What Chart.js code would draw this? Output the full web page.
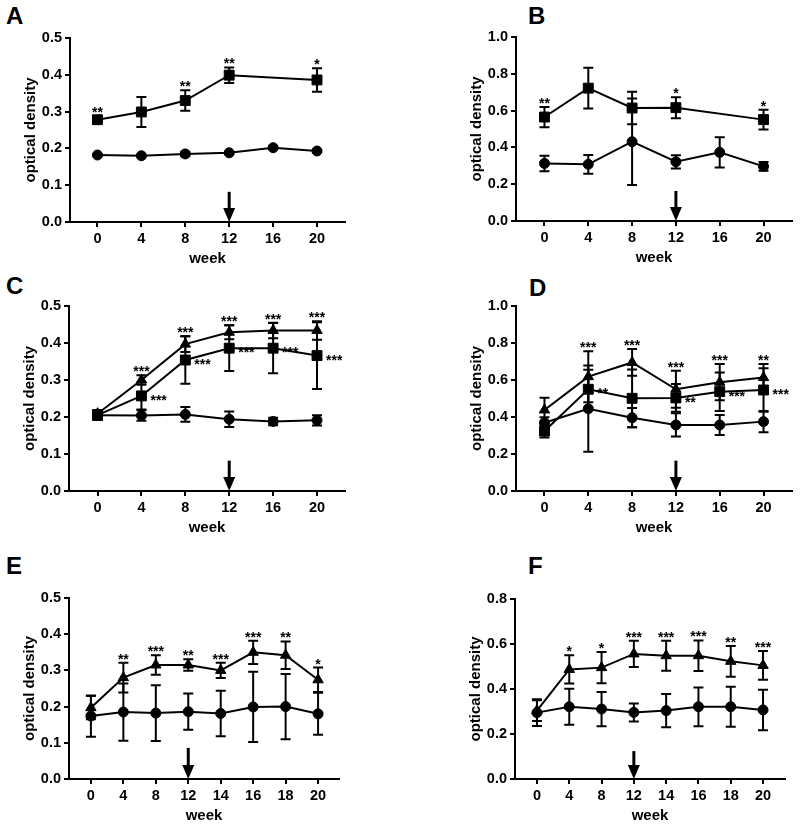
<!DOCTYPE html>
<html><head><meta charset="utf-8">
<script src="https://cdn.jsdelivr.net/npm/chart.js@4.4.1/dist/chart.umd.min.js"></script>
<style>
html,body{margin:0;padding:0;background:#fff;overflow:hidden}
#wrap{position:relative;width:800px;height:827px;background:#fff}
canvas{position:absolute}
.letter{position:absolute;font:bold 24px 'Liberation Sans',Arial,sans-serif;line-height:24px;color:#000}
</style></head><body><div id="wrap">
<div class="letter" style="left:6px;top:4px">A</div>
<div class="letter" style="left:528px;top:4px">B</div>
<div class="letter" style="left:6px;top:274px">C</div>
<div class="letter" style="left:529px;top:276px">D</div>
<div class="letter" style="left:6px;top:554px">E</div>
<div class="letter" style="left:528px;top:554px">F</div>
<canvas id="cA" width="400" height="270" style="left:0;top:0;width:400px;height:270px"></canvas>
<canvas id="cB" width="400" height="270" style="left:400px;top:0;width:400px;height:270px"></canvas>
<canvas id="cC" width="400" height="270" style="left:0;top:270px;width:400px;height:270px"></canvas>
<canvas id="cD" width="400" height="270" style="left:400px;top:270px;width:400px;height:270px"></canvas>
<canvas id="cE" width="400" height="287" style="left:0;top:540px;width:400px;height:287px"></canvas>
<canvas id="cF" width="400" height="287" style="left:400px;top:540px;width:400px;height:287px"></canvas>
</div>
<script>
const FONT = "'Liberation Sans', Arial, sans-serif";

// ---- categories / tick labels ----
const weeksAD = [0, 4, 8, 12, 16, 20];
const weeksEF = ['0', '4', '8', '12', '14', '16', '18', '20'];

// ---- Panel A ----
const aCircle = [0.182, 0.180, 0.185, 0.188, 0.202, 0.193];
const aCircleErr = [0.003, 0.003, 0.006, 0.003, 0.003, 0.003];
const aSquare = [0.278, 0.299, 0.330, 0.399, null, 0.386];
const aSquareErr = [0.009, 0.041, 0.028, 0.021, null, 0.032];
const aSquareSig = ['**', '', '**', '**', '', '*'];

// ---- Panel B ----
const bCircle = [0.313, 0.308, 0.431, 0.322, 0.373, 0.297];
const bCircleErr = [0.042, 0.051, 0.235, 0.036, 0.082, 0.024];
const bSquare = [0.565, 0.722, 0.614, 0.616, null, 0.551];
const bSquareErr = [0.055, 0.111, 0.088, 0.057, null, 0.054];
const bSquareSig = ['**', '', '', '*', '', '*'];

// ---- Panel C ----
const cCircle = [0.205, 0.204, 0.207, 0.194, 0.188, 0.191];
const cCircleErr = [0.013, 0.014, 0.020, 0.021, 0.010, 0.014];
const cSquare = [0.205, 0.257, 0.354, 0.386, 0.386, 0.366];
const cSquareErr = [0.013, 0.037, 0.064, 0.062, 0.068, 0.090];
const cSquareSig = ['', '***', '***', '***', '***', '***'];
const cTriangle = [0.209, 0.300, 0.397, 0.429, 0.434, 0.434];
const cTriangleErr = [0.010, 0.013, 0.021, 0.019, 0.021, 0.025];
const cTriangleSig = ['', '***', '***', '***', '***', '***'];

// ---- Panel D ----
const dCircle = [0.369, 0.445, 0.396, 0.357, 0.357, 0.375];
const dCircleErr = [0.030, 0.233, 0.052, 0.063, 0.054, 0.058];
const dSquare = [0.324, 0.550, 0.501, 0.503, 0.537, 0.546];
const dSquareErr = [0.035, 0.105, 0.156, 0.075, 0.104, 0.117];
const dSquareSig = ['', '**', '', '**', '***', '***'];
const dTriangle = [0.438, 0.618, 0.695, 0.550, 0.588, 0.613];
const dTriangleErr = [0.066, 0.138, 0.072, 0.100, 0.098, 0.073];
const dTriangleSig = ['', '***', '***', '***', '***', '**'];

// ---- Panel E ----
const eCircle = [0.174, 0.185, 0.182, 0.186, 0.181, 0.199, 0.200, 0.180];
const eCircleErr = [0.057, 0.079, 0.077, 0.050, 0.063, 0.097, 0.090, 0.058];
const eTriangle = [0.197, 0.280, 0.315, 0.315, 0.300, 0.350, 0.342, 0.274];
const eTriangleErr = [0.032, 0.041, 0.027, 0.016, 0.021, 0.032, 0.038, 0.034];
const eTriangleSig = ['', '**', '***', '**', '***', '***', '**', '*'];

// ---- Panel F ----
const fCircle = [0.295, 0.321, 0.311, 0.296, 0.304, 0.321, 0.321, 0.307];
const fCircleErr = [0.059, 0.080, 0.076, 0.040, 0.074, 0.086, 0.089, 0.090];
const fTriangle = [0.304, 0.487, 0.495, 0.556, 0.548, 0.548, 0.523, 0.505];
const fTriangleErr = [0.046, 0.063, 0.069, 0.058, 0.067, 0.068, 0.068, 0.064];
const fTriangleSig = ['', '*', '*', '***', '***', '***', '**', '***'];

// arrows (treatment start at week 12)
const arrowWeekAD = 12;
const arrowIndexEF = 3;

function pts(xs, ys, errs, sigs) {
  const out = [];
  ys.forEach((y, i) => {
    if (y == null) return;
    out.push({ x: xs[i], y: y, err: errs[i], sig: sigs ? sigs[i] : '' });
  });
  return out;
}
function ds(data, style, radius, sigPos) {
  return {
    data: data, pointStyle: style, pointRadius: radius, pointHoverRadius: radius,
    borderColor: '#000', backgroundColor: '#000', pointBackgroundColor: '#000',
    pointBorderColor: '#000', pointBorderWidth: 1, borderWidth: 2, tension: 0,
    fill: false, sigPos: sigPos
  };
}

const marks = {
  id: 'marks',
  beforeDatasetsDraw(chart) {
    const ctx = chart.ctx, x = chart.scales.x, y = chart.scales.y;
    ctx.save();
    ctx.strokeStyle = '#000'; ctx.lineWidth = 2;
    chart.data.datasets.forEach(d => {
      d.data.forEach(p => {
        if (!p.err) return;
        const px = x.getPixelForValue(p.x);
        const t = y.getPixelForValue(p.y + p.err), b = y.getPixelForValue(p.y - p.err);
        ctx.beginPath();
        ctx.moveTo(px, t); ctx.lineTo(px, b);
        ctx.moveTo(px - 5, t); ctx.lineTo(px + 5, t);
        ctx.moveTo(px - 5, b); ctx.lineTo(px + 5, b);
        ctx.stroke();
      });
    });
    ctx.restore();
  },
  afterDatasetsDraw(chart, args, opts) {
    const ctx = chart.ctx, x = chart.scales.x, y = chart.scales.y;
    ctx.save();
    ctx.fillStyle = '#000'; ctx.strokeStyle = '#000';
    ctx.font = 'bold 14px ' + FONT;
    chart.data.datasets.forEach(d => {
      if (!d.sigPos) return;
      d.data.forEach(p => {
        if (!p.sig) return;
        const px = x.getPixelForValue(p.x);
        if (d.sigPos === 'above') {
          ctx.textAlign = 'center'; ctx.textBaseline = 'alphabetic';
          ctx.fillText(p.sig, px, y.getPixelForValue(p.y + p.err) + 1);
        } else {
          ctx.textAlign = 'left'; ctx.textBaseline = 'alphabetic';
          ctx.fillText(p.sig, px + 9, y.getPixelForValue(p.y) + 9);
        }
      });
    });
    if (opts && opts.arrowX != null) {
      const ax = x.getPixelForValue(opts.arrowX);
      const a0 = y.getPixelForValue(opts.arrowFrom), a1 = y.getPixelForValue(0);
      ctx.lineWidth = 3;
      ctx.beginPath(); ctx.moveTo(ax, a0); ctx.lineTo(ax, a1 - 12); ctx.stroke();
      ctx.beginPath();
      ctx.moveTo(ax - 6, a1 - 14); ctx.lineTo(ax + 6, a1 - 14); ctx.lineTo(ax, a1);
      ctx.closePath(); ctx.fill();
    }
    ctx.restore();
  }
};

const tickFont = { family: FONT, size: 14.5, weight: 'bold' };
const titleFont = { family: FONT, size: 15, weight: 'bold' };

function makeChart(id, datasets, o) {
  return new Chart(document.getElementById(id), {
    type: 'line',
    data: { datasets: datasets },
    options: {
      responsive: false, animation: false, events: [],
      layout: { padding: o.pad },
      plugins: {
        legend: { display: false }, tooltip: { enabled: false },
        marks: { arrowX: o.arrowX, arrowFrom: o.arrowFrom }
      },
      scales: {
        x: {
          type: 'linear', min: o.xmin, max: o.xmax,
          afterBuildTicks: s => { s.ticks = o.xticks.map(v => ({ value: v })); },
          afterFit: s => { s.height = 46; },
          ticks: { color: '#000', font: tickFont, padding: 3, maxRotation: 0, autoSkip: false, callback: o.xfmt },
          grid: { drawOnChartArea: false, drawTicks: true, tickLength: 5, color: '#000', lineWidth: 2 },
          border: { display: true, color: '#000', width: 2 },
          title: { display: true, text: 'week', color: '#000', font: titleFont, padding: { top: 0, bottom: 0 } }
        },
        y: {
          type: 'linear', min: 0, max: o.ymax,
          afterFit: s => { s.width = 62; },
          ticks: { stepSize: o.ystep, color: '#000', font: tickFont, padding: 3, callback: v => Number(v).toFixed(1) },
          grid: { drawOnChartArea: false, drawTicks: true, tickLength: 5, color: '#000', lineWidth: 2 },
          border: { display: true, color: '#000', width: 2 },
          title: { display: true, text: 'optical density', color: '#000', font: titleFont, padding: { top: 14, bottom: 0 } }
        }
      }
    },
    plugins: [marks]
  });
}

const idxEF = weeksEF.map((w, i) => i);
const fmtAD = v => String(v);
const fmtEF = v => weeksEF[v];

makeChart('cA', [
  ds(pts(weeksAD, aCircle, aCircleErr), 'circle', 5),
  ds(pts(weeksAD, aSquare, aSquareErr, aSquareSig), 'rect', 7, 'above')
], { pad: { left: 8, top: 38, right: 55, bottom: 2 }, xmin: -2.5, xmax: 22.55, xticks: weeksAD, xfmt: fmtAD,
     ymax: 0.5, ystep: 0.1, arrowX: arrowWeekAD, arrowFrom: 0.082 });

makeChart('cB', [
  ds(pts(weeksAD, bCircle, bCircleErr), 'circle', 5),
  ds(pts(weeksAD, bSquare, bSquareErr, bSquareSig), 'rect', 7, 'above')
], { pad: { left: 54, top: 37, right: 7, bottom: 3 }, xmin: -2.6, xmax: 22.6, xticks: weeksAD, xfmt: fmtAD,
     ymax: 1.0, ystep: 0.2, arrowX: arrowWeekAD, arrowFrom: 0.163 });

makeChart('cC', [
  ds(pts(weeksAD, cCircle, cCircleErr), 'circle', 5),
  ds(pts(weeksAD, cSquare, cSquareErr, cSquareSig), 'rect', 7, 'right'),
  ds(pts(weeksAD, cTriangle, cTriangleErr, cTriangleSig), 'triangle', 6, 'above')
], { pad: { left: 7, top: 36, right: 55, bottom: 3 }, xmin: -2.6, xmax: 22.55, xticks: weeksAD, xfmt: fmtAD,
     ymax: 0.5, ystep: 0.1, arrowX: arrowWeekAD, arrowFrom: 0.082 });

makeChart('cD', [
  ds(pts(weeksAD, dCircle, dCircleErr), 'circle', 5),
  ds(pts(weeksAD, dSquare, dSquareErr, dSquareSig), 'rect', 7, 'right'),
  ds(pts(weeksAD, dTriangle, dTriangleErr, dTriangleSig), 'triangle', 6, 'above')
], { pad: { left: 54, top: 36, right: 7, bottom: 3 }, xmin: -2.6, xmax: 22.6, xticks: weeksAD, xfmt: fmtAD,
     ymax: 1.0, ystep: 0.2, arrowX: arrowWeekAD, arrowFrom: 0.164 });

makeChart('cE', [
  ds(pts(idxEF, eCircle, eCircleErr), 'circle', 5),
  ds(pts(idxEF, eTriangle, eTriangleErr, eTriangleSig), 'triangle', 6, 'above')
], { pad: { left: 7, top: 58, right: 61, bottom: 2 }, xmin: -0.675, xmax: 7.645, xticks: idxEF, xfmt: fmtEF,
     ymax: 0.5, ystep: 0.1, arrowX: arrowIndexEF, arrowFrom: 0.086 });

makeChart('cF', [
  ds(pts(idxEF, fCircle, fCircleErr), 'circle', 5),
  ds(pts(idxEF, fTriangle, fTriangleErr, fTriangleSig), 'triangle', 6, 'above')
], { pad: { left: 53, top: 59, right: 15, bottom: 2 }, xmin: -0.68, xmax: 7.68, xticks: idxEF, xfmt: fmtEF,
     ymax: 0.8, ystep: 0.2, arrowX: arrowIndexEF, arrowFrom: 0.124 });
</script>
</body></html>
